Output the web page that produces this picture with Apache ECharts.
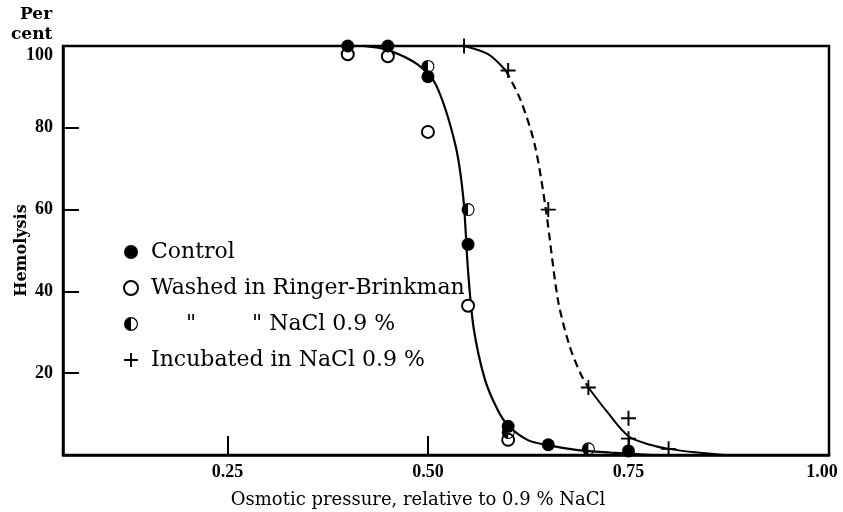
<!DOCTYPE html>
<html>
<head>
<meta charset="utf-8">
<script src="https://cdn.jsdelivr.net/npm/echarts@6/dist/echarts.min.js"></script>
<style>
  html, body { margin: 0; padding: 0; background: #fff; }
  #chart { width: 843px; height: 512px; }
</style>
</head>
<body>
<div id="chart"></div>
<script>
// ---- data ----
var xTickValues = [0.25, 0.50, 0.75, 1.00];
var yTickValues = [20, 40, 60, 80, 100];

var controlPts = [[0.40, 100], [0.45, 100], [0.50, 92.5], [0.55, 51.5], [0.60, 7], [0.65, 2.5], [0.75, 1]];
var washedRingerPts = [[0.40, 98], [0.45, 97.5], [0.50, 79], [0.55, 36.5], [0.60, 3.7]];
var washedNaClPts = [[0.50, 95], [0.55, 60], [0.60, 5.5], [0.70, 1.5]];
var incubatedPts = [[0.545, 100], [0.60, 94], [0.65, 60], [0.70, 16.5], [0.75, 9], [0.75, 4], [0.80, 1.5]];

// hand-drawn fitted curves
var controlCurve = [[0.42, 100], [0.45, 99], [0.487, 95.5], [0.51, 90.5], [0.534, 76], [0.544, 63],
  [0.550, 45], [0.557, 31], [0.571, 18.5], [0.587, 11], [0.60, 7.2], [0.624, 3.7],
  [0.649, 2.4], [0.687, 1.2], [0.728, 0.6], [0.78, 0]];
var incubCurveTop = [[0.545, 100], [0.575, 98], [0.597, 94]];
var incubCurveDashed = [[0.597, 94], [0.615, 87], [0.633, 76], [0.647, 60],
  [0.662, 38], [0.676, 27], [0.69, 20], [0.70, 16.5]];
var incubCurveBottom = [[0.70, 16.5], [0.724, 10.4], [0.75, 4.6], [0.777, 2.5], [0.80, 1.5], [0.836, 0.6], [0.87, 0]];

var legendNames = ['Control', 'Washed in Ringer-Brinkman', 'Washed in NaCl 0.9 %', 'Incubated in NaCl 0.9 %'];
var legendTexts = ['Control', 'Washed in Ringer-Brinkman', '     "        " NaCl 0.9 %', 'Incubated in NaCl 0.9 %'];

// ---- styling ----
var FONT = 'DejaVu Serif';
var TICKFONT = 'Liberation Serif';
var halfPath = 'path://M0,-10 A10,10 0 0,1 0,10 A10,10 0 0,1 0,-10 Z M0,-8.3 A8.3,8.3 0 0,0 0,8.3 A8.3,8.3 0 0,0 0,-8.3 Z M0,8.3 A8.3,8.3 0 0,1 0,-8.3 Z';
var plusPath = 'path://M-0.9,-7 L0.9,-7 L0.9,-0.9 L7,-0.9 L7,0.9 L0.9,0.9 L0.9,7 L-0.9,7 L-0.9,0.9 L-7,0.9 L-7,-0.9 L-0.9,-0.9 Z';
function tickStyle(extra) {
  var s = { fontFamily: TICKFONT, fontSize: 18, fontWeight: 'bold', color: '#000' };
  for (var k in extra) s[k] = extra[k];
  return s;
}

var chart = echarts.init(document.getElementById('chart'));
chart.setOption({
  backgroundColor: '#fff',
  animation: false,
  grid: { left: 63, right: 14, top: 46, bottom: 57, outerBoundsMode: 'none', containLabel: false,
    show: true, borderColor: '#000', borderWidth: 2.5, backgroundColor: 'transparent' },
  xAxis: {
    type: 'value', min: 0.045, max: 1.0,
    name: 'Osmotic pressure, relative to 0.9 % NaCl',
    nameLocation: 'middle', nameGap: 36, nameMoveOverlap: false,
    nameTextStyle: { fontFamily: FONT, fontSize: 18, color: '#000', padding: [0, 56, 0, 0] },
    axisLine: { show: true, onZero: false, lineStyle: { color: '#000', width: 2.5 } },
    axisTick: { show: true, inside: true, length: 19, customValues: [0.25, 0.50, 0.75], lineStyle: { color: '#000', width: 2 } },
    axisLabel: {
      customValues: xTickValues, margin: 8, fontFamily: TICKFONT, fontSize: 18, fontWeight: 'bold', color: '#000',
      formatter: function (v) { var s = v.toFixed(2); return v >= 1 ? '{r|' + s + '}' : '{n|' + s + '}'; },
      rich: { n: tickStyle({}), r: tickStyle({ padding: [0, 14, 0, 0] }) }
    },
    splitLine: { show: false }
  },
  yAxis: {
    type: 'value', min: 0, max: 100,
    name: 'Hemolysis', nameLocation: 'middle', nameGap: 33, nameMoveOverlap: false,
    nameTextStyle: { fontFamily: FONT, fontSize: 16, fontWeight: 'bold', color: '#000' },
    axisLine: { show: true, lineStyle: { color: '#000', width: 2.5 } },
    axisTick: { show: true, inside: true, length: 16, customValues: [20, 40, 60, 80], lineStyle: { color: '#000', width: 2 } },
    axisLabel: {
      customValues: yTickValues, margin: 10, fontFamily: TICKFONT, fontSize: 18, fontWeight: 'bold', color: '#000',
      formatter: function (v) { return v >= 100 ? '{t|' + v + '}' : '{n|' + v + '}'; },
      rich: { n: tickStyle({}), t: tickStyle({ padding: [18, 0, 0, 0] }) }
    },
    splitLine: { show: false }
  },
  legend: {
    orient: 'vertical', left: 123, top: 241, padding: 0,
    itemWidth: 14, itemHeight: 14, itemGap: 14,
    data: legendNames,
    formatter: function (name) { return legendTexts[legendNames.indexOf(name)]; },
    textStyle: { fontFamily: FONT, fontSize: 22, color: '#000', padding: [0, 0, 0, 8] },
    selectedMode: false
  },
  graphic: [
    { type: 'text', left: 20, top: 6, style: { text: 'Per', fontFamily: FONT, fontSize: 17, fontWeight: 'bold', fill: '#000' } },
    { type: 'text', left: 11, top: 26, style: { text: 'cent', fontFamily: FONT, fontSize: 17, fontWeight: 'bold', fill: '#000' } }
  ],
  series: [
    { type: 'line', data: controlCurve, showSymbol: false, smooth: 0.3, lineStyle: { color: '#000', width: 2.2 }, z: 2, silent: true },
    { type: 'line', data: incubCurveTop, showSymbol: false, smooth: 0.3, lineStyle: { color: '#000', width: 2 }, z: 2, silent: true },
    { type: 'line', data: incubCurveDashed, showSymbol: false, smooth: 0.3, lineStyle: { color: '#000', width: 2.2, type: [8, 5] }, z: 2, silent: true },
    { type: 'line', data: incubCurveBottom, showSymbol: false, smooth: 0.3, lineStyle: { color: '#000', width: 2 }, z: 2, silent: true },
    { name: 'Control', type: 'scatter', data: controlPts, symbol: 'circle', symbolSize: 13,
      itemStyle: { color: '#000', opacity: 1 }, z: 5 },
    { name: 'Washed in Ringer-Brinkman', type: 'scatter', data: washedRingerPts, symbol: 'emptyCircle', symbolSize: 12,
      itemStyle: { color: '#000', borderColor: '#000', borderWidth: 1.8, opacity: 1 }, z: 3 },
    { name: 'Washed in NaCl 0.9 %', type: 'scatter', data: washedNaClPts, symbol: halfPath, symbolSize: 13,
      itemStyle: { color: '#000', opacity: 1 }, z: 4 },
    { name: 'Incubated in NaCl 0.9 %', type: 'scatter', data: incubatedPts, symbol: plusPath, symbolSize: 15,
      itemStyle: { color: '#000', opacity: 1 }, z: 4 }
  ]
});
</script>
</body>
</html>
